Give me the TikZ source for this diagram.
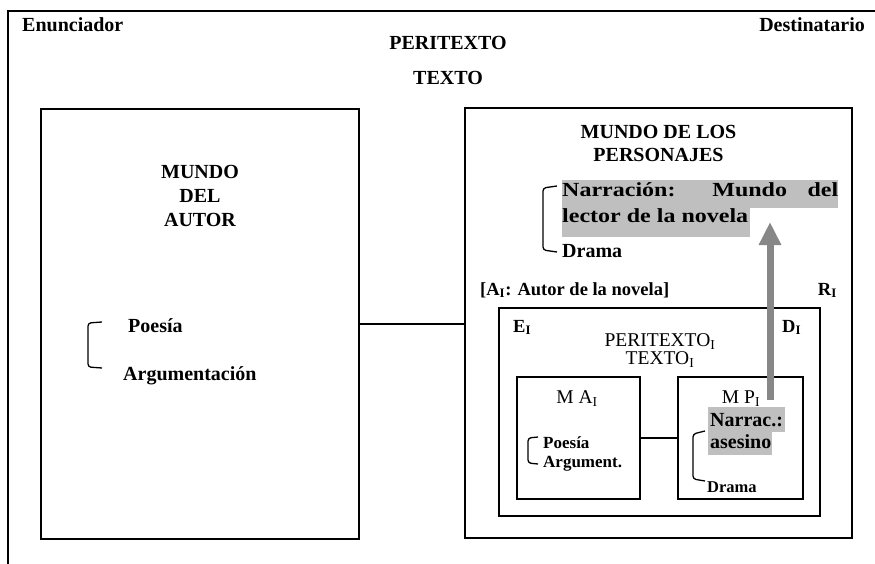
\documentclass[tikz,border=0pt]{standalone}
\usepackage{fontspec}
\setmainfont{Liberation Serif}
\newfontfamily\wideserif[FakeStretch=1.2]{Liberation Serif}
\usetikzlibrary{arrows.meta,positioning}
\newcommand{\subI}{\textsubscript{I}}

\begin{document}
\begin{tikzpicture}[x=1pt,y=-1pt,
  box/.style={draw=black,line width=1.8pt,inner sep=0pt},
  big/.style={font=\bfseries\fontsize{20}{24}\selectfont,inner sep=0pt,align=center},
  mid/.style={font=\fontsize{19.5}{18}\selectfont,inner sep=0pt,align=center},
  lab/.style={font=\bfseries\fontsize{18.5}{20}\selectfont,inner sep=0pt},
  small/.style={font=\bfseries\fontsize{17}{19}\selectfont,inner sep=0pt,align=left},
  brk/.style={line width=1.3pt,rounded corners=3pt},
  hl/.style={fill=black!25}]
\useasboundingbox (0,0) rectangle (875,564);

% outer frame
\draw[line width=2.6pt] (8,570) -- (8,11) -- (880,11);
\node[big,anchor=base west] (enun) at (22,32) {Enunciador};
\node[big,anchor=base east] (dest) at (865,32) {Destinatario};
\node[big,anchor=base] (peri) at (448,50) {PERITEXTO};
\node[big,anchor=base] (texto) at (448,85) {TEXTO};

% boxes
\node[box,minimum width=318pt,minimum height=430pt] (autor) at (200,324) {};
\node[box,minimum width=387pt,minimum height=430pt] (pers) at (658.5,323) {};
\node[box,minimum width=321pt,minimum height=208pt] (textoI) at (659.5,412) {};
\node[box,minimum width=123pt,minimum height=122pt] (ma) at (578.5,438) {};
\node[box,minimum width=125pt,minimum height=122pt] (mp) at (740.5,438) {};
\draw[line width=1.8pt] (autor.east) -- (autor.east -| pers.west);
\draw[line width=1.8pt] (ma.east) -- (mp.west);

% left world
\node[big,anchor=north] (mautor) at (200,165) {MUNDO\\DEL\\AUTOR};
\node[big,anchor=base west] (poesia) at (128,332) {Poesía};
\node[big,anchor=base west] (argu) at (123,380) {Argumentación};
\draw[brk] (102,322) -- (88,323) -- (88,367) -- (102,368);

% right world
\node[big,anchor=north,font=\bfseries\fontsize{20}{23}\selectfont] (mpers) at (658.5,125) {MUNDO DE LOS\\PERSONAJES};
\fill[hl] (562,180) rectangle (838,208);
\fill[hl] (562,208) rectangle (750,237);
\node[anchor=north west,inner sep=0pt,align=left,
  font=\wideserif\bfseries\fontsize{20}{26}\selectfont] (narr) at (562,182)
  {\makebox[276pt][s]{Narración: Mundo del}\\lector de la novela};
\node[big,anchor=base west] (drama) at (562,257) {Drama};
\draw[brk] (557,186) -- (543,188) -- (543,250) -- (557,252);
\node[lab,anchor=base west] (autorI) at (480,295) {[A\subI: Autor de la novela]};
\node[lab,anchor=base east] (rI) at (837,295) {R\subI};

% inner text
\node[lab,anchor=base west] (eI) at (513,332) {E\subI};
\node[lab,anchor=base west] (dI) at (782,332) {D\subI};
\node[mid,anchor=north] (periI) at (660,333) {PERITEXTO\subI\\TEXTO\subI};
\node[mid,anchor=base] (maI) at (577,403) {M A\subI};
\node[small,anchor=north west] (poesiaI) at (543,436) {Poesía\\Argument.};
\draw[brk] (538,437) -- (528,438) -- (528,463) -- (538,464);
\node[mid,anchor=base] (mpI) at (741,403) {M P\subI};
\fill[hl] (708,407) rectangle (785,432);
\fill[hl] (708,432) rectangle (772,455);
\node[big,anchor=north west,align=left,font=\bfseries\fontsize{20}{22}\selectfont] (narrac) at (710,413) {Narrac.:\\asesino};
\draw[brk] (705,431) -- (693,434) -- (693,479) -- (705,481);
\node[small,anchor=base west,font=\bfseries\fontsize{16.5}{18}\selectfont] (dramaI) at (707,492) {Drama};

% arrow
\coordinate (flechaIni) at (770,400);
\coordinate (flechaFin) at (770,222);
\draw[line width=7pt,draw=black!47,-{Triangle[width=21pt,length=23pt]}] (flechaIni) -- (flechaFin);
\end{tikzpicture}
\end{document}
